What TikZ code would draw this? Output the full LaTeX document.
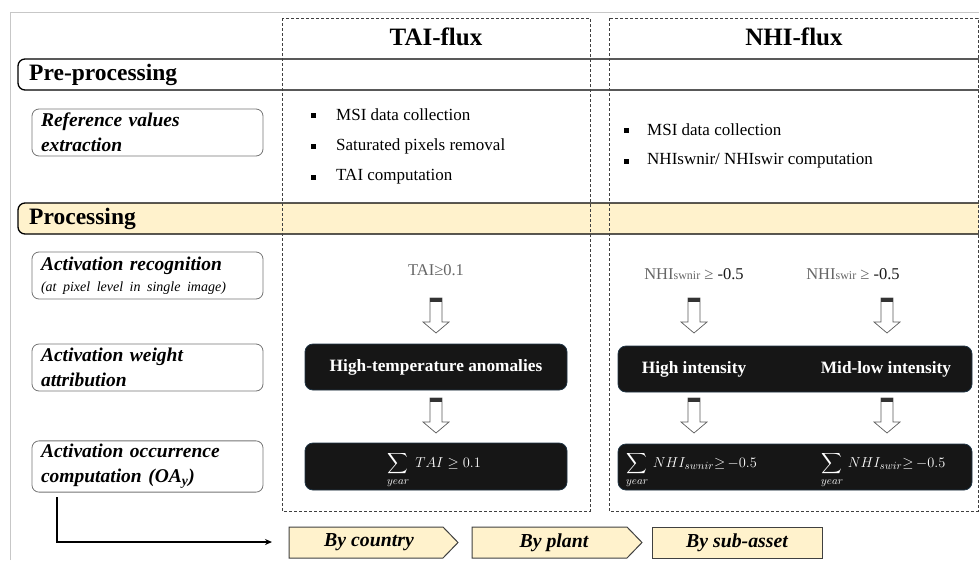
\documentclass[tikz,border=0pt]{standalone}
\usepackage{amsmath}
\usepackage{fontspec}
\setmainfont{Liberation Serif}
\usetikzlibrary{arrows.meta}
\definecolor{pale}{HTML}{FFF2CC}
\definecolor{boxblk}{HTML}{161616}
\definecolor{boxedge}{HTML}{1F3444}
\begin{document}
\begin{tikzpicture}[x=1pt,y=-1pt,
  title/.style={font=\fontsize{25}{29}\selectfont\bfseries},
  bartext/.style={anchor=west,font=\fontsize{23.5}{27}\selectfont\bfseries,inner sep=0pt},
  leftbox/.style={draw=black!55,rounded corners=7pt,line width=0.8pt,minimum width=231pt,minimum height=47pt,text width=213pt,inner xsep=9pt,align=left,font=\fontsize{19.5}{25}\selectfont\bfseries\itshape},
  bul/.style={rectangle,fill=black,minimum size=5pt,inner sep=0pt},
  bultext/.style={anchor=west,inner sep=0pt,font=\fontsize{17}{20}\selectfont},
  cond/.style={text=black!60,inner sep=0pt,font=\fontsize{16.5}{19}\selectfont},
  blackbox/.style={fill=boxblk,draw=boxedge,line width=0.8pt,rounded corners=8pt,text=white,font=\fontsize{17.3}{20}\selectfont\bfseries},
  wtext/.style={text=white,inner sep=0pt,font=\fontsize{17.3}{20}\selectfont\bfseries},
  mtext/.style={text=white,inner sep=0pt,font=\fontsize{15}{17}\selectfont},
  dbox/.style={draw=black!75,densely dashed,line width=0.7pt},
  chev/.style={draw=black!75,fill=pale,line width=1pt},
  chevtext/.style={inner sep=0pt,font=\fontsize{19.8}{23}\selectfont\bfseries\itshape},
  harrow/.pic={
    \draw[black!65,line width=0.7pt,fill=white,line join=miter] (-6,0) -- (6,0) -- (6,24) -- (13,24) -- (0,35) -- (-13,24) -- (-6,24) -- cycle;
    \fill[black!80] (-6,0) rectangle (6,4);
  }]
\useasboundingbox (0,0) rectangle (979,560);
% outer light frame
\draw[black!22,line width=1pt] (10,560) -- (10,12) -- (979,12);
% bars
\draw[line width=1.3pt,rounded corners=7pt,fill=white] (995,59) -- (18,59) -- (18,90) -- (995,90);
\draw[line width=1.3pt,rounded corners=7pt,fill=pale] (995,203) -- (18,203) -- (18,234) -- (995,234);
\node[bartext] (pre) at (29,75) {Pre-processing};
\node[bartext] (proc) at (29,219) {Processing};
% dashed column boxes
\draw[dbox] (282,18) rectangle (590,511);
\draw[dbox] (609,18) rectangle (978,511);
\node[title] (tai) at (436,37) {TAI-flux};
\node[title] (nhi) at (794,37) {NHI-flux};
% left boxes
\node[leftbox] (ref) at (147.5,132.5) {Reference values\\extraction};
\node[leftbox,font=\fontsize{19.5}{21}\selectfont\bfseries\itshape] (rec) at (147.5,275.5) {Activation recognition\\{\fontsize{14}{15}\selectfont\mdseries (at pixel level in single image)}};
\node[leftbox] (wei) at (147.5,367.5) {Activation weight\\attribution};
\node[leftbox] (occ) at (147.5,466.5) {Activation occurrence\\computation (OA\textsubscript{y})};
% bullets TAI
\node[bul] (tb1) at (313,115) {};
\node[bul] (tb2) at (313,146) {};
\node[bul] (tb3) at (313,177) {};
\node[bultext] (tt1) at (336,115) {MSI data collection};
\node[bultext] (tt2) at (336,146) {Saturated pixels removal};
\node[bultext] (tt3) at (336,177) {TAI computation};
% bullets NHI
\node[bul] (nb1) at (626,130) {};
\node[bul] (nb2) at (626,161) {};
\node[bultext] (nt1) at (647,130) {MSI data collection};
\node[bultext] (nt2) at (647,161) {NHIswnir/ NHIswir computation};
% conditions
\node[cond] (ctai) at (436,270) {TAI≥0.1};
\node[cond] (cnir) at (694,274) {NHI{\fontsize{12}{13}\selectfont swnir} ≥ \textcolor{black!90}{-0.5}};
\node[cond] (cswir) at (853,274) {NHI{\fontsize{12}{13}\selectfont swir} ≥ \textcolor{black!90}{-0.5}};
% hollow arrows
\pic at (436,298) {harrow};
\pic at (436,398) {harrow};
\pic at (694,298) {harrow};
\pic at (887,298) {harrow};
\pic at (694,398) {harrow};
\pic at (887,398) {harrow};
% black boxes
\node[blackbox,minimum width=262pt,minimum height=46pt] (hta) at (436,367) {High-temperature anomalies};
\node[blackbox,minimum width=262pt,minimum height=47pt] (sta) at (436,466.5) {};
\node[mtext] (stat) at (434,470) {$\displaystyle\sum_{year}\; TAI \geq 0.1$};
\node[blackbox,minimum width=354pt,minimum height=46pt] (hnhi) at (795,369) {};
\node[wtext] (hi) at (694,369) {High intensity};
\node[wtext] (ml) at (886,369) {Mid-low intensity};
\node[blackbox,minimum width=354pt,minimum height=46pt] (snhi) at (795,467) {};
\node[mtext,anchor=west] (s1) at (626,470) {$\displaystyle\sum_{year}\, NHI_{swnir}{\geq}\,{-0.5}$};
\node[mtext,anchor=west] (s2) at (821,470) {$\displaystyle\sum_{year}\, NHI_{swir}{\geq}\,{-0.5}$};
% bottom chevrons
\draw[chev] (289,527) -- (443,527) -- (458,542.5) -- (443,558) -- (289,558) -- cycle;
\draw[chev] (472,527) -- (627,527) -- (642,542.5) -- (627,558) -- (472,558) -- cycle;
\draw[chev] (652,527) rectangle (822,558);
\node[chevtext] (country) at (369,542.5) {By country};
\node[chevtext] (plant) at (554,542.5) {By plant};
\node[chevtext] (sub) at (737,542.5) {By sub-asset};
% flow arrow
\coordinate (oastart) at (57,497);
\coordinate (oaend) at (272,542);
\draw[line width=1.3pt,-{Stealth[length=7pt,width=6pt]}] (oastart) |- (oaend);
\end{tikzpicture}
\end{document}
